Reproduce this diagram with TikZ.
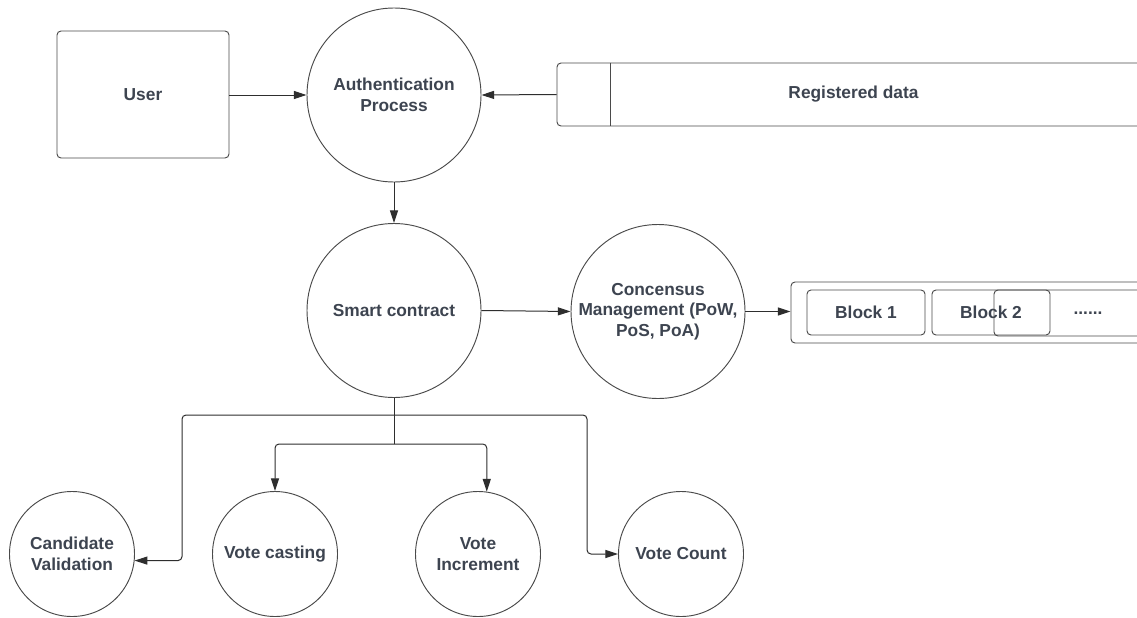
\documentclass[tikz,border=0pt]{standalone}
\usepackage{fontspec}
\setmainfont{Liberation Sans}
\usetikzlibrary{arrows.meta,calc}
\definecolor{txt}{HTML}{3D4450}
\definecolor{edge}{HTML}{4A4A4A}
\definecolor{wire}{HTML}{2E2E2E}
\tikzset{
  label text/.style={font=\bfseries\fontsize{13pt}{15.5pt}\selectfont, text=txt, align=center},
  bigproc/.style={circle, draw=edge, line width=0.7pt, minimum size=130.5pt, inner sep=0pt, label text},
  smallproc/.style={circle, draw=edge, line width=0.7pt, minimum size=93.75pt, inner sep=0pt, label text},
  roundbox/.style={rectangle, rounded corners=3pt, draw=edge, line width=0.7pt, inner sep=0pt, label text},
  link/.style={draw=wire, line width=0.75pt, rounded corners=3pt, -{Triangle[length=9.5pt, width=6pt]}},
  plainlink/.style={draw=wire, line width=0.75pt, rounded corners=3pt}
}
\begin{document}
\begin{tikzpicture}[x=0.75pt, y=-0.75pt]
  \clip (0,0) rectangle (1137,617);
  \fill[white] (0,0) rectangle (1137,617);

  % top row
  \node[roundbox, minimum width=129pt, minimum height=95.25pt] (user) at (143,94.5) {User};
  \node[bigproc] (auth) at (394,95) {Authentication\\Process};
  \node[roundbox, minimum width=444.75pt, minimum height=47.25pt] (reg) at (853.5,94.5) {Registered data};
  \draw[edge, line width=0.9pt] ([xshift=40.5pt]reg.north west) -- ([xshift=40.5pt]reg.south west);

  % middle row
  \node[bigproc] (sc) at (394,310.5) {Smart contract};
  \node[bigproc] (cons) at (658,311.5) {Concensus\\Management (PoW,\\PoS, PoA)};
  \node[roundbox, minimum width=314.25pt, minimum height=45.75pt] (chain) at (1000.5,312.5) {};
  \node[roundbox, minimum width=88.5pt, minimum height=33.75pt] (b1) at (866,312.5) {Block 1};
  \node[roundbox, minimum width=88.5pt, minimum height=33.75pt] (b2) at (991,312.5) {Block 2};
  \node[roundbox, minimum width=141pt, minimum height=34.5pt] (b3) at (1088,313) {......};

  % bottom row
  \node[smallproc] (cand) at (72,554) {Candidate\\Validation};
  \node[smallproc] (cast) at (275,554) {Vote casting};
  \node[smallproc] (inc) at (478,554) {Vote\\Increment};
  \node[smallproc] (vc) at (681,554) {Vote Count};

  % junctions and bus lines below the smart contract
  \coordinate (j1) at (394,415);
  \coordinate (j2) at (394,444);
  \coordinate (lbus) at (182,0);
  \coordinate (rbus) at (587,0);

  % connectors
  \draw[link] (user.east |- auth.west) -- (auth.west);
  \draw[link] (reg.west) -- (auth.east);
  \draw[link] (auth.south) -- (sc.north);
  \draw[link] (sc.east) -- (cons.west);
  \draw[link] (cons.east) -- (chain.west |- cons.east);
  \draw[plainlink] (sc.south) -- (j2);
  \draw[link] (j1) -| (lbus |- cand.-6.5) -- (cand.-6.5);
  \draw[link] (j1) -| (rbus |- vc.west) -- (vc.west);
  \draw[link] (j2) -| (cast.north);
  \draw[link] (j2) -| (inc.82.6);
\end{tikzpicture}
\end{document}
